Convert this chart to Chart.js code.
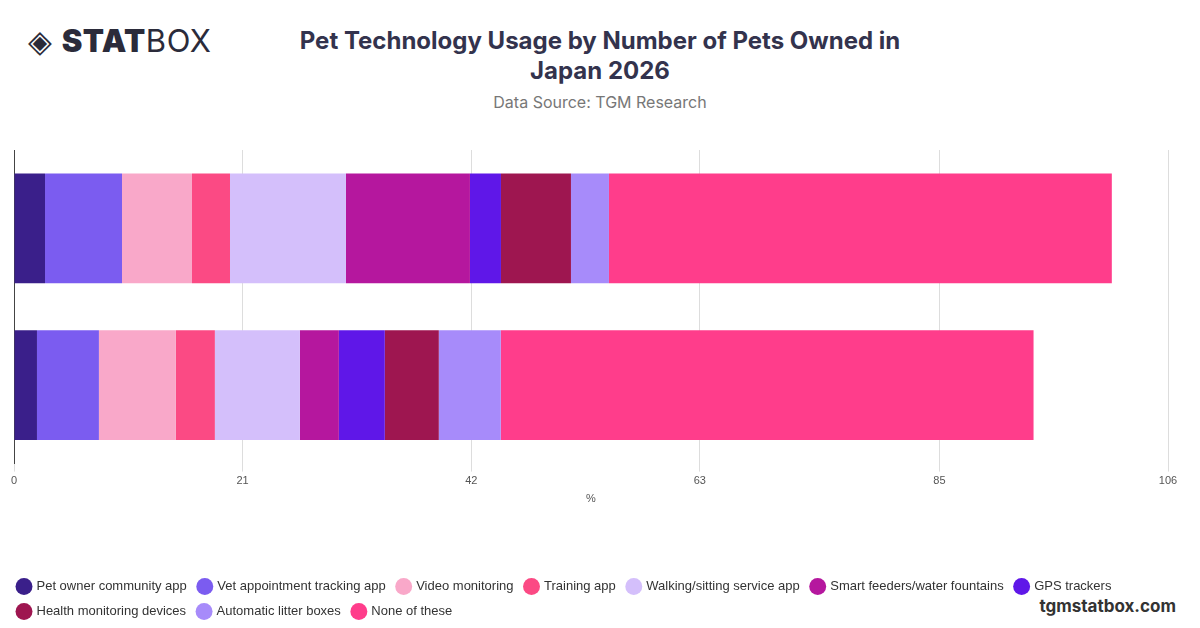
<!DOCTYPE html>
<html><head><meta charset="utf-8">
<script src="https://cdn.jsdelivr.net/npm/chart.js@4"></script>
<style>
body{margin:0;width:1200px;height:628px;background:#fff;font-family:Inter,"Noto Sans",sans-serif;position:relative;overflow:hidden}
#logo{position:absolute;left:28px;top:22px;font-size:31px;color:#2b2b3a;letter-spacing:0.5px}
#logo b{font-weight:900}
#title{position:absolute;left:0;width:1200px;top:26px;text-align:center;font-size:24px;font-weight:700;color:#33334d;line-height:30px}
#sub{position:absolute;left:0;width:1200px;top:92px;text-align:center;font-size:16px;color:#777}
#wm{position:absolute;right:24px;top:596px;font-size:17px;font-weight:700;color:#333}
#wrap{position:absolute;left:0;top:150px;width:1200px;height:478px}
</style></head><body>
<div id="logo">◈ <b>STAT</b>BOX</div>
<div id="title">Pet Technology Usage by Number of Pets Owned in<br>Japan 2026</div>
<div id="sub">Data Source: TGM Research</div>
<div id="wm">tgmstatbox.com</div>
<div id="wrap"><canvas id="c"></canvas></div>
<script>
const categories = ['1 pet', '2+ pets'];
const seriesNames = ['Pet owner community app','Vet appointment tracking app','Video monitoring','Training app','Walking/sitting service app','Smart feeders/water fountains','GPS trackers','Health monitoring devices','Automatic litter boxes','None of these'];
const seriesColors = ['#3a1f8a','#7b5cf0','#f9a8c9','#fb4a84','#d4bffb','#b5179e','#5f17e8','#9e1650','#a78bfa','#ff3d8b'];
const seriesValues = [
  [2.85, 2.11],
  [7.07, 5.69],
  [6.43, 7.07],
  [3.49, 3.58],
  [10.65, 7.81],
  [11.39, 3.58],
  [2.85, 4.22],
  [6.43, 4.96],
  [3.49, 5.69],
  [46.19, 48.94]
];
const xTicks = [0, 21, 42, 63, 85, 106];

new Chart(document.getElementById('c'), {
  type: 'bar',
  data: {
    labels: categories,
    datasets: seriesNames.map((n, i) => ({
      label: n, data: seriesValues[i], backgroundColor: seriesColors[i],
      barPercentage: 0.7, categoryPercentage: 1
    }))
  },
  options: {
    indexAxis: 'y', responsive: true, maintainAspectRatio: false, animation: false,
    layout: { padding: { left: 6, right: 32, top: 0, bottom: 0 } },
    scales: {
      x: {
        stacked: true, min: 0, max: 106,
        afterBuildTicks: a => { a.ticks = xTicks.map(v => ({ value: v })); },
        ticks: { color: '#555', font: { size: 11 } },
        grid: { color: '#ddd' }, border: { display: false },
        title: { display: true, text: '%', color: '#555', font: { size: 11 }, padding: { top: 2, bottom: 62 } }
      },
      y: {
        stacked: true, ticks: { display: false },
        grid: { display: false }, border: { color: '#444' }
      }
    },
    plugins: {
      legend: {
        position: 'bottom', align: 'start',
        labels: { usePointStyle: true, pointStyle: 'circle', boxWidth: 12, boxHeight: 12, color: '#333', font: { size: 13 }, padding: 12 }
      },
      tooltip: { enabled: false }
    }
  }
});
</script>
</body></html>
